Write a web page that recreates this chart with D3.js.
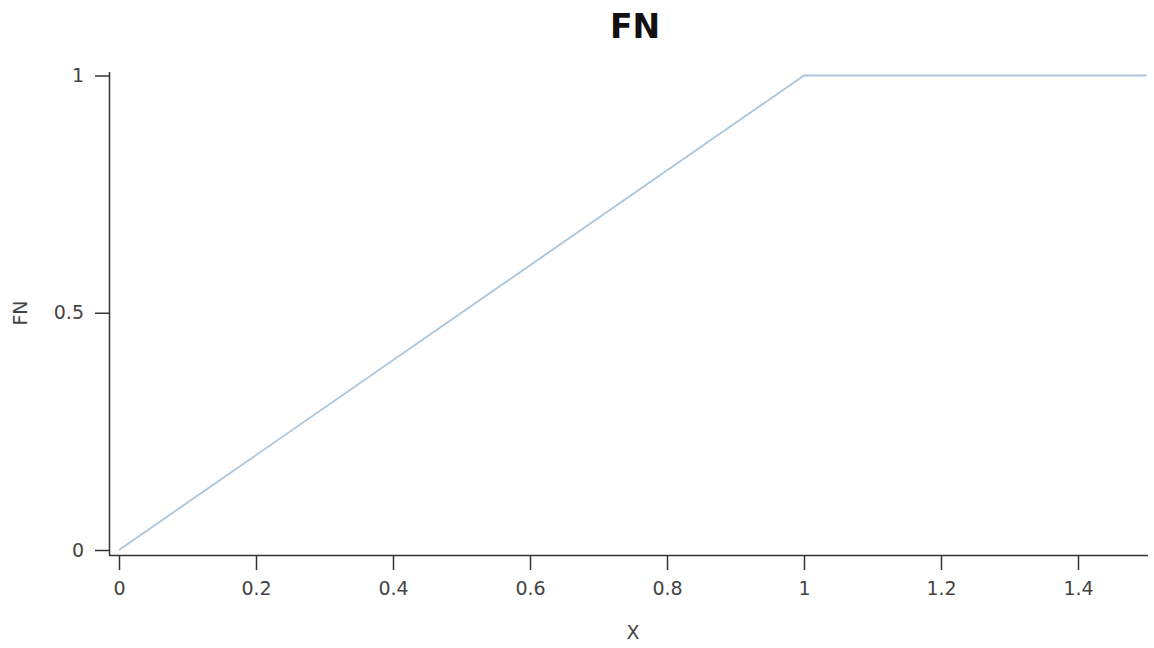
<!DOCTYPE html>
<html>
<head>
<meta charset="utf-8">
<script src="https://cdn.jsdelivr.net/npm/d3@7"></script>
<style>
  body { margin: 0; background: #fff; }
  svg text { font-family: "DejaVu Sans", sans-serif; fill: #333; }
</style>
</head>
<body>
<div id="chart"></div>
<script>
const xValues = [0, 1, 1.5];
const fnValues = [0, 1, 1];
const xTicks = [0, 0.2, 0.4, 0.6, 0.8, 1, 1.2, 1.4];
const yTicks = [0, 0.5, 1];

const width = 1154, height = 648;
const svg = d3.select('#chart').append('svg').attr('width', width).attr('height', height);

const px = d3.scaleLinear().domain([0, 1.5]).range([119, 1146.5]);
const py = d3.scaleLinear().domain([0, 1]).range([550, 75.5]);

// axes sit a bit away from the data, like the original
const gx = svg.append('g').attr('transform', 'translate(0,555)')
  .call(d3.axisBottom(px).tickValues(xTicks).tickSize(15).tickPadding(12).tickSizeOuter(0).tickFormat(d3.format('')));
gx.select('.domain').attr('d', 'M109,0.5H1148');
const gy = svg.append('g').attr('transform', 'translate(109,0)')
  .call(d3.axisLeft(py).tickValues(yTicks).tickSize(14).tickPadding(11).tickSizeOuter(0).tickFormat(d3.format('')));
gy.select('.domain').attr('d', 'M0.5,72V555');

[gx, gy].forEach(g => {
  g.selectAll('path, line').attr('stroke', '#333').attr('stroke-width', 1.5);
  g.selectAll('text').style('font-size', '19px').style('fill', '#444');
});

const points = xValues.map((x, i) => ({ x, y: fnValues[i] }));
svg.append('path')
  .datum(points)
  .attr('fill', 'none')
  .attr('stroke', '#a9c6dd')
  .attr('stroke-width', 1.8)
  .attr('d', d3.line().x(d => px(d.x)).y(d => py(d.y)));

svg.append('text')
  .attr('x', 635).attr('y', 38)
  .attr('text-anchor', 'middle')
  .style('font-size', '33px').style('font-weight', 'bold').style('fill', '#111')
  .text('FN');

svg.append('text')
  .attr('x', 633).attr('y', 639)
  .attr('text-anchor', 'middle')
  .style('font-size', '19px').style('fill', '#444')
  .text('X');

svg.append('text')
  .attr('transform', 'translate(27,313) rotate(-90)')
  .attr('text-anchor', 'middle')
  .style('font-size', '19px').style('fill', '#444')
  .text('FN');
</script>
</body>
</html>
